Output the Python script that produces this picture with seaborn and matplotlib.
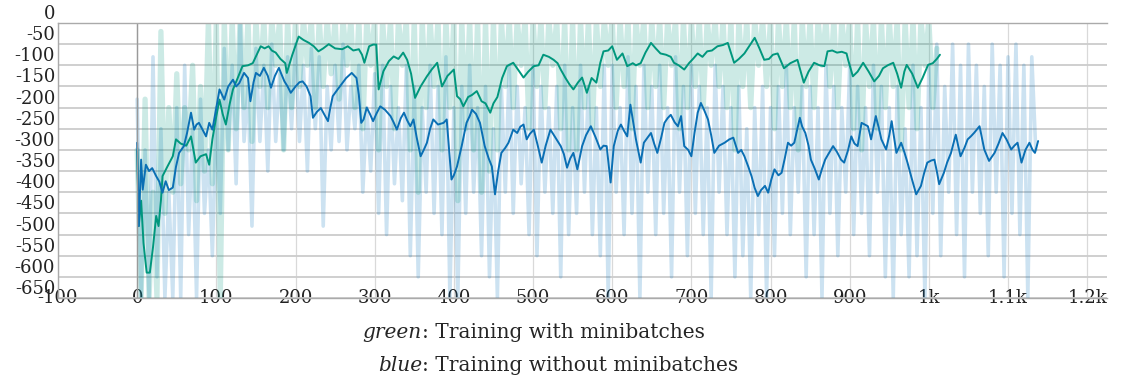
import numpy as np
import pandas as pd
import matplotlib
matplotlib.use("Agg")
import matplotlib.pyplot as plt
import seaborn as sns

# smoothed reward curves (episode, reward)
green_ep = [0, 2, 5, 8, 12, 16, 20, 24, 27, 30, 32, 38, 45, 49, 55, 62, 68, 74, 80, 87,
            91, 95, 100, 104, 108, 112, 117, 121, 127, 133, 140, 146, 151, 156, 161, 166, 170, 175, 181, 187,
            189, 196, 204, 210, 217, 223, 229, 235, 242, 250, 259, 266, 273, 280, 284, 287, 293, 298, 302, 305,
            311, 318, 324, 330, 336, 341, 346, 351, 358, 366, 372, 379, 385, 392, 400, 404, 408, 412, 418, 423,
            429, 435, 440, 446, 450, 455, 461, 467, 475, 481, 488, 494, 501, 507, 513, 520, 526, 531, 535, 541,
            546, 551, 557, 562, 568, 574, 580, 585, 589, 595, 600, 606, 613, 619, 626, 630, 636, 642, 649, 655,
            661, 668, 674, 678, 684, 691, 697, 702, 708, 714, 720, 726, 733, 740, 746, 754, 760, 767, 773, 780,
            786, 792, 798, 803, 809, 817, 825, 834, 842, 848, 855, 862, 868, 872, 878, 884, 890, 896, 898, 904,
            910, 917, 924, 931, 937, 942, 948, 955, 960, 965, 969, 972, 979, 986, 992, 999, 1005, 1010, 1014]
green_val = [-300, -480, -420, -520, -590, -590, -530, -456, -480, -420, -362, -340, -315, -275, -285, -290, -268, -330, -315, -310,
             -335, -275, -220, -181, -215, -240, -190, -157, -130, -102, -100, -95, -75, -55, -60, -55, -65, -70, -85, -95,
             -118, -75, -32, -40, -47, -55, -67, -60, -50, -60, -62, -55, -65, -62, -75, -94, -55, -51, -51, -157,
             -114, -90, -79, -85, -70, -87, -120, -177, -150, -126, -110, -94, -150, -125, -110, -173, -180, -197, -175, -170,
             -161, -185, -190, -212, -190, -175, -130, -102, -94, -110, -129, -115, -102, -100, -75, -80, -87, -95, -110, -130,
             -145, -157, -140, -129, -165, -130, -141, -94, -67, -65, -55, -87, -72, -102, -95, -100, -95, -70, -47, -60,
             -72, -75, -80, -94, -100, -110, -95, -85, -72, -80, -67, -65, -55, -52, -47, -94, -85, -72, -55, -35,
             -60, -87, -85, -75, -72, -107, -95, -87, -141, -115, -94, -100, -102, -67, -65, -70, -68, -72, -87, -126,
             -115, -94, -115, -138, -125, -107, -100, -94, -120, -153, -115, -99, -120, -153, -130, -99, -95, -85, -75]

blue_ep = [0, 2, 5, 7, 11, 15, 19, 24, 28, 32, 36, 40, 45, 49, 53, 59, 63, 68, 72, 75,
           78, 82, 87, 91, 95, 100, 104, 110, 115, 121, 125, 129, 135, 140, 143, 147, 150, 155, 160, 165,
           169, 174, 179, 182, 186, 190, 194, 200, 205, 209, 214, 219, 222, 227, 232, 236, 241, 244, 247, 252,
           258, 264, 271, 277, 280, 283, 286, 290, 294, 298, 302, 307, 313, 320, 324, 328, 333, 337, 341, 345,
           349, 353, 358, 362, 366, 370, 374, 380, 387, 391, 394, 397, 400, 404, 410, 416, 420, 423, 428, 433,
           439, 444, 448, 452, 456, 460, 465, 469, 475, 480, 484, 488, 492, 496, 501, 506, 511, 516, 522, 528,
           535, 539, 543, 547, 551, 556, 562, 567, 573, 579, 585, 589, 593, 598, 602, 607, 611, 615, 619, 623,
           627, 630, 636, 640, 645, 649, 653, 657, 662, 666, 670, 674, 679, 683, 687, 691, 696, 700, 704, 708,
           712, 716, 721, 725, 729, 735, 742, 748, 753, 759, 763, 767, 772, 776, 780, 784, 788, 793, 797, 801,
           805, 810, 814, 818, 822, 826, 830, 837, 840, 844, 848, 851, 856, 861, 865, 869, 873, 879, 884, 889,
           893, 898, 902, 906, 910, 915, 919, 923, 927, 933, 937, 940, 946, 950, 953, 956, 959, 965, 969, 973,
           978, 984, 987, 990, 994, 998, 1003, 1007, 1010, 1013, 1019, 1023, 1028, 1031, 1034, 1037, 1040, 1045, 1049, 1053,
           1057, 1064, 1070, 1076, 1080, 1083, 1088, 1093, 1098, 1104, 1108, 1112, 1117, 1122, 1127, 1131, 1134, 1138]
blue_val = [-283, -480, -323, -394, -335, -350, -343, -362, -375, -401, -374, -395, -389, -340, -307, -291, -260, -212, -252, -240,
            -236, -250, -268, -236, -252, -200, -157, -181, -150, -134, -150, -142, -118, -130, -185, -140, -118, -125, -106, -125,
            -153, -125, -106, -120, -138, -150, -165, -150, -140, -138, -150, -173, -224, -210, -201, -215, -232, -200, -173, -160,
            -145, -130, -118, -130, -170, -236, -228, -200, -215, -232, -215, -197, -205, -220, -235, -252, -225, -212, -230, -244,
            -228, -270, -315, -300, -283, -250, -228, -240, -236, -228, -300, -370, -360, -339, -290, -236, -220, -205, -215, -236,
            -291, -320, -339, -405, -350, -307, -295, -283, -252, -260, -245, -240, -275, -262, -252, -290, -330, -290, -252, -270,
            -291, -310, -342, -320, -307, -346, -291, -265, -244, -270, -299, -290, -291, -377, -291, -255, -240, -255, -268, -193,
            -240, -275, -330, -283, -270, -260, -285, -307, -270, -236, -225, -217, -235, -244, -220, -291, -300, -315, -260, -212,
            -189, -205, -228, -265, -307, -290, -283, -275, -271, -307, -300, -315, -340, -362, -390, -409, -395, -385, -401, -370,
            -346, -360, -354, -320, -283, -290, -283, -224, -245, -260, -290, -323, -345, -370, -345, -323, -310, -291, -305, -323,
            -330, -300, -268, -285, -291, -236, -240, -244, -275, -220, -250, -275, -299, -265, -232, -270, -307, -283, -305, -330,
            -365, -405, -395, -385, -355, -330, -325, -323, -350, -381, -354, -330, -307, -285, -264, -290, -315, -295, -275, -268,
            -260, -244, -299, -326, -315, -307, -285, -260, -275, -299, -290, -283, -330, -300, -283, -300, -307, -279]

# raw (unsmoothed) rewards, one value every 5th episode
raw_step = 5
green_raw = [-300, -650, -180, -650, -400, -650, -20, -450, -200, -400,
             -120, -380, -200, -300, -100, -420, -150, -350, 10, -380,
             10, -650, 10, -300, 10, -250, 10, -200, 10, -280,
             10, -150, 10, -200, 10, -100, 10, -300, 10, -200,
             10, -150, 10, -100, 10, -200, 10, -150, 10, -120,
             10, -180, 10, -100, 10, -200, 10, -250, 10, -100,
             10, -300, 10, -150, 10, -250, 10, -100, 10, -300,
             10, -400, 10, -200, 10, -150, 10, -300, 10, -200,
             10, -420, 10, -250, 10, -300, 10, -400, 10, -350,
             10, -300, 10, -150, 10, -200, 10, -100, 10, -250,
             10, -150, 10, -200, 10, -100, 10, -250, 10, -300,
             10, -300, 10, -200, 10, -250, 10, -150, 10, -100,
             10, -200, 10, -150, 10, -250, 10, -100, 10, -200,
             10, -150, 10, -200, 10, -100, 10, -250, 10, -200,
             10, -150, 10, -200, 10, -100, 10, -150, 10, -200,
             10, -300, 10, -150, 10, -200, 10, -100, 10, -150,
             10, -250, 10, -150, 10, -200, 10, -300, 10, -150,
             10, -200, 10, -100, 10, -150, 10, -200, 10, -100,
             10, -250, 10, -300, 10, -150, 10, -250, 10, -200,
             10, -150, 10, -300, 10, -200, 10, -250, 10, -100,
             10, -200, -60]
blue_raw = [-180, -650, -300, -650, -80, -600, -250, -650, -400, -650,
            -200, -650, -100, -500, -250, -650, -180, -450, -300, -550,
            -200, -450, -60, -300, -100, -380, 10, -280, -150, -480,
            -60, -280, -100, -350, -50, -280, -120, -300, -80, -250,
            -50, -280, -100, -350, -60, -250, -80, -480, -150, -300,
            -100, -280, -50, -300, -150, -250, -100, -400, -200, -350,
            -120, -450, -100, -500, -150, -380, -200, -420, -100, -550,
            -150, -600, -200, -400, -100, -450, -150, -500, -80, -650,
            -200, -650, -150, -450, -100, -400, -200, -550, -150, -600,
            -250, -650, -150, -400, -100, -450, -150, -380, -200, -500,
            -100, -550, -150, -400, -200, -450, -150, -600, -100, -500,
            -200, -450, -100, -400, -150, -500, -200, -550, -100, -650,
            -100, -400, -200, -500, -80, -450, -150, -650, -100, -400,
            -150, -500, -100, -450, -200, -600, -80, -400, -150, -550,
            -100, -450, -150, -500, -200, -650, -100, -400, -150, -500,
            -200, -600, -150, -550, -250, -650, -200, -500, -150, -650,
            -200, -550, -150, -450, -100, -500, -200, -400, -150, -600,
            -150, -500, -200, -650, -100, -450, -150, -550, -200, -400,
            -100, -500, -150, -450, -200, -550, -100, -400, -150, -600,
            -200, -650, -150, -500, -250, -600, -100, -550, -200, -650,
            -100, -450, -50, -550, -150, -400, -50, -500, -100, -600,
            -50, -400, -100, -450, -150, -550, -50, -400, -100, -600,
            -80, -450, -50, -500, -100, -650, -80, -300]

x_ticks = list(range(-100, 1201, 100))
x_labels = ['-100', '0', '100', '200', '300', '400', '500', '600', '700', '800', '900', '1k', '1.1k', '1.2k']
y_ticks = list(range(-650, 1, 50))

green_dark = '#00977d'
blue_dark = '#0a6fb4'

sns.set_theme(style='white')
plt.rcParams['font.family'] = ['DejaVu Serif']
plt.rcParams['path.simplify'] = False

fig = plt.figure(figsize=(11.21, 3.8), dpi=100)
ax = fig.add_axes([58 / 1121, 1 - 298 / 380, (1107 - 58) / 1121, 275 / 380])

raw_g = pd.DataFrame({'ep': np.arange(len(green_raw)) * raw_step, 'r': green_raw})
raw_b = pd.DataFrame({'ep': np.arange(len(blue_raw)) * raw_step, 'r': blue_raw})
sns.lineplot(data=raw_b, x='ep', y='r', color='#0072bd', alpha=0.2, lw=2.6, ax=ax)
sns.lineplot(data=raw_g, x='ep', y='r', color='#009a80', alpha=0.2, lw=3.8, ax=ax)
sns.lineplot(x=green_ep, y=green_val, color=green_dark, lw=1.4, ax=ax)
sns.lineplot(x=blue_ep, y=blue_val, color=blue_dark, lw=1.4, ax=ax)

ax.set_xlim(-100, 1225)
ax.set_ylim(-650, 0)
ax.set_xticks(x_ticks)
ax.set_xticklabels(x_labels)
ax.set_yticks(y_ticks)
ax.set_yticklabels([str(v) for v in y_ticks])
ax.set_xlabel('')
ax.set_ylabel('')
ax.grid(True, axis='y', color='#cccccc', lw=1.3)
ax.grid(True, axis='x', color='#d9d9d9', lw=0.9)
ax.axvline(0, color='#9a9a9a', lw=1.0)
for side in ['left', 'top', 'bottom']:
    ax.spines[side].set_color('#aaaaaa')
    ax.spines[side].set_linewidth(1.0)
ax.spines['right'].set_visible(False)
ax.tick_params(axis='x', length=0, pad=0, labelsize=13, colors='#222222')
ax.tick_params(axis='y', length=0, pad=2, labelsize=13, colors='#222222')
plt.setp(ax.get_xticklabels(), va='center')
plt.setp(ax.get_yticklabels(), va='bottom')

# caption under the plot
colon_x = 422 / 1121
fig.text(colon_x, 1 - 338 / 380, 'green', ha='right', va='baseline', fontsize=14.5, style='italic')
fig.text(colon_x, 1 - 338 / 380, ': Training with minibatches', ha='left', va='baseline', fontsize=14.5)
fig.text(colon_x, 1 - 371 / 380, 'blue', ha='right', va='baseline', fontsize=14.5, style='italic')
fig.text(colon_x, 1 - 371 / 380, ': Training without minibatches', ha='left', va='baseline', fontsize=14.5)

fig.savefig('out.png', dpi=100)
